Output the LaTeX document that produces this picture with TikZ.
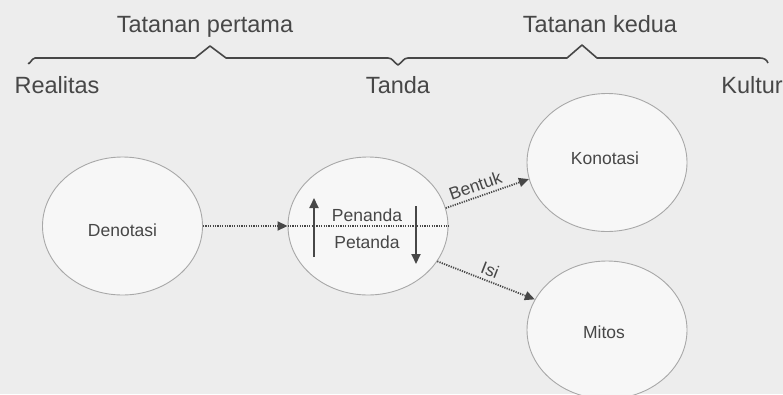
\documentclass[tikz,border=0pt]{standalone}
\usepackage{fontspec}
\setmainfont{Liberation Sans}
\usetikzlibrary{shapes.geometric,arrows.meta}
\definecolor{bg}{HTML}{EDEDED}
\definecolor{ink}{HTML}{474747}
\definecolor{efill}{HTML}{F7F7F7}
\definecolor{estroke}{HTML}{A8A8A8}
\tikzset{
  big/.style={font=\fontsize{23.5pt}{26pt}\selectfont, text=ink, inner sep=0pt, anchor=base},
  small/.style={font=\fontsize{17.5pt}{20pt}\selectfont, text=ink, inner sep=0pt},
  oval/.style={ellipse, draw=estroke, line width=0.9pt, fill=efill, minimum width=160pt, minimum height=138pt, inner sep=0pt},
  brace/.style={draw=ink, line width=1.6pt, line join=round},
  dotarrow/.style={draw=ink, line width=1.8pt, dash pattern=on 1.2pt off 1.2pt, -{Triangle[length=10pt,width=9pt]}},
  solidarrow/.style={draw=ink, line width=1.8pt, -{Triangle[length=10pt,width=9pt]}},
}
\begin{document}
\begin{tikzpicture}[x=1pt,y=-1pt]
\clip (0,0) rectangle (783,394);
\fill[bg] (0,0) rectangle (783,394);
% top labels
\node[big] (t1) at (205,32) {Tatanan pertama};
\node[big] (t2) at (600,32.5) {Tatanan kedua};
\node[big] (real) at (57,93) {Realitas};
\node[big] (tanda) at (398,93) {Tanda};
\node[big, anchor=base east] (kult) at (783,93) {Kultur};
% braces
\draw[brace] (28,63) to[out=-70,in=180] (35,58) -- (195,58) -- (210,46) -- (226,58) -- (388,58) to[out=0,in=150] (398,65)
  to[out=30,in=180] (408,58) -- (567,58) -- (582,45) -- (597,58) -- (760,58) to[out=0,in=110] (768,63);
% ellipses
\node[oval] (den) at (122.5,226) {};
\node[small] (denl) at (122.5,230) {Denotasi};
\node[oval] (mid) at (368,226) {};
\node[oval] (kon) at (607,162.5) {};
\node[small] (konl) at (605,158) {Konotasi};
\node[oval] (mit) at (607,330) {};
\node[small] (mitl) at (604,332) {Mitos};
% inner of middle ellipse
\draw[draw=ink, line width=1.8pt, dash pattern=on 1.2pt off 1.2pt] (mid.west) -- (mid.east);
\node[small] (pen) at (367,215) {Penanda};
\node[small] (pet) at (367,242) {Petanda};
\coordinate (upS) at (314,257);
\coordinate (upE) at (314,198);
\coordinate (dnS) at (416,206);
\coordinate (dnE) at (416,264);
\draw[solidarrow] (upS) -- (upE);
\draw[solidarrow] (dnS) -- (dnE);
% connectors
\draw[dotarrow] (den.east) -- (mid.west);
\draw[dotarrow] (mid.13) -- node[small, pos=0.4, above=4pt, sloped] {Bentuk} (kon.192);
\draw[dotarrow] (mid.-27) -- node[small, pos=0.5, above=4pt, sloped] {Isi} (mit.157);
\end{tikzpicture}
\end{document}
